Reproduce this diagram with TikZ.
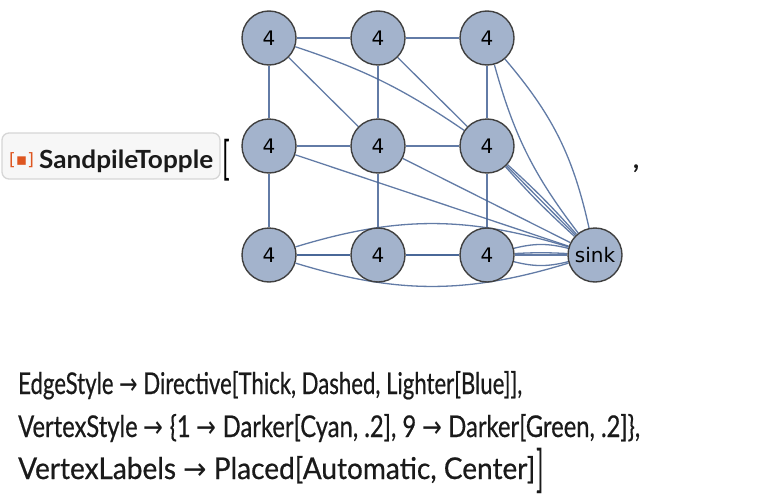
\documentclass[tikz,border=0pt]{standalone}
\usepackage{fontspec}
\setmainfont{Lato}
\newfontfamily\codefont{Lato}[FakeBold=0.6]
\newfontfamily\dvs{DejaVu Sans}
\usetikzlibrary{backgrounds}
\definecolor{vfill}{RGB}{163,179,204}
\definecolor{vline}{RGB}{64,64,64}
\definecolor{ecol}{RGB}{70,100,150}
\definecolor{iconorange}{RGB}{222,86,32}
\definecolor{boxfill}{RGB}{247,247,247}
\definecolor{boxline}{RGB}{214,214,214}
\definecolor{txt}{RGB}{26,26,26}
\newcommand{\arw}{{\dvs\char"2192}}
\begin{document}
\begin{tikzpicture}[x=1pt,y=-1pt,
  vert/.style={circle,draw=vline,fill=vfill,line width=1.4pt,minimum size=54pt,inner sep=0pt,font=\dvs\fontsize{20}{20}\selectfont},
  gedge/.style={draw=ecol,draw opacity=0.85,line width=1.3pt},
  codeline/.style={anchor=base west,inner sep=0pt,text=txt,font=\codefont\fontsize{30}{30}\selectfont},
]
\useasboundingbox (0,0) rectangle (766,498);
% head box
\node[draw=boxline,fill=boxfill,line width=1.3pt,rounded corners=7pt,minimum width=218pt,minimum height=46pt,inner sep=0pt] (head) at (111,156) {};
\node[anchor=west,inner sep=0pt,text=iconorange,font=\dvs\fontsize{17}{17}\selectfont] (icon) at (9,160) {[▪]};
\node[anchor=base west,inner sep=0pt,text=txt,font=\bfseries\fontsize{25}{25}\selectfont] (fname) at (39,168) {\resizebox{174pt}{\height}{SandpileTopple}};
\node[anchor=west,inner sep=0pt,text=black,font=\fontsize{46}{46}\selectfont] (lbr) at (222,160) {\scalebox{0.55}[1]{[}};
\node[anchor=base,inner sep=0pt,text=txt,font=\codefont\fontsize{30}{30}\selectfont] (comma) at (636,168) {,};
% vertices
\node[vert] (a1) at (269,38) {4};
\node[vert] (a2) at (378,38) {4};
\node[vert] (a3) at (487,38) {4};
\node[vert] (b1) at (269,146) {4};
\node[vert] (b2) at (378,146) {4};
\node[vert] (b3) at (487,146) {4};
\node[vert] (c1) at (269,255) {4};
\node[vert] (c2) at (378,255) {4};
\node[vert] (c3) at (487,255) {4};
\node[vert] (s) at (595,255) {sink};
\begin{scope}[on background layer]
\draw[gedge] (a1) -- (a2);
\draw[gedge] (a2) -- (a3);
\draw[gedge] (b1) -- (b2);
\draw[gedge] (b2) -- (b3);
\draw[gedge] (c1) -- (c2);
\draw[gedge] (c1) -- (c2);
\draw[gedge] (c2) -- (c3);
\draw[gedge] (c2) -- (c3);
\draw[gedge] (a1) -- (b1);
\draw[gedge] (b1) -- (c1);
\draw[gedge] (a2) -- (b2);
\draw[gedge] (b2) -- (c2);
\draw[gedge] (a3) -- (b3);
\draw[gedge] (b3) -- (c3);
\draw[gedge] (a1) -- (b2);
\draw[gedge] (a1) to[bend left=8] (b3);
\draw[gedge] (a2) -- (b3);
\draw[gedge] (b1) -- (s);
\draw[gedge] (b2) -- (s);
\draw[gedge] (b3) -- (s);
\draw[gedge] (b3) to[bend left=3] (s);
\draw[gedge] (b3) to[bend right=3] (s);
\draw[gedge] (a3) to[bend left=14] (s);
\draw[gedge] (a3) to[bend right=11] (s);
\draw[gedge] (c1) to[bend left=17] (s);
\draw[gedge] (c1) to[bend right=17] (s);
\draw[gedge] (c3) to[bend left=14] (s);
\draw[gedge] (c3) -- (s);
\draw[gedge] (c3) to[bend left=3] (s);
\draw[gedge] (c3) to[bend right=14] (s);
\end{scope}
% code lines
\node[codeline] (l1) at (18,394) {\resizebox{504pt}{\height}{EdgeStyle \arw{} Directive[Thick, Dashed, Lighter[Blue]],}};
\node[codeline] (l2) at (18,437) {\resizebox{622pt}{\height}{VertexStyle \arw{} \{1 \arw{} Darker[Cyan, .2], 9 \arw{} Darker[Green, .2]\},}};
\node[codeline] (l3) at (18,479) {\resizebox{517pt}{\height}{VertexLabels \arw{} Placed[Automatic, Center]}};
\node[anchor=west,inner sep=0pt,text=txt,font=\fontsize{50}{50}\selectfont] (rbr) at (536,471) {\scalebox{0.5}[1]{]}};
\end{tikzpicture}
\end{document}
